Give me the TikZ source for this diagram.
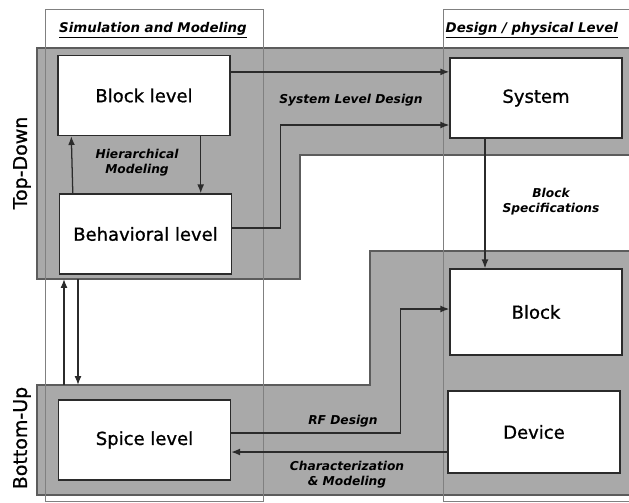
\documentclass[tikz,border=0pt]{standalone}
\usepackage{fontspec}
\setmainfont{DejaVu Sans}[ItalicFont={DejaVu Sans Oblique},
  BoldItalicFont={DejaVu Sans Bold Oblique}]
\newfontfamily\boxfont{DejaVu Sans}[FakeBold=0.9]
\usetikzlibrary{arrows.meta,positioning,calc}
\definecolor{cPanel}{HTML}{A9A9A9}
\definecolor{cPanelEdge}{HTML}{5C5C5C}
\definecolor{cFrame}{HTML}{808080}
\definecolor{cLine}{HTML}{2B2B2B}

\begin{document}
\begin{tikzpicture}[
    x=0.25mm, y=-0.25mm,
    >={Latex[length=2.2mm,width=1.7mm]},
    every node/.style={align=center},
    levelbox/.style={draw=cLine, line width=1pt, fill=white, minimum width=43mm,
      minimum height=20mm, inner sep=2pt, font=\boxfont\fontsize{12.8}{15}\selectfont},
    flowlbl/.style={font=\fontsize{8.7}{10.5}\selectfont\bfseries\itshape, inner sep=1pt},
    sidelbl/.style={rotate=90, font=\boxfont\fontsize{13.5}{16}\selectfont},
    coltitle/.style={font=\fontsize{9.5}{11}\selectfont\bfseries\itshape, inner sep=1pt},
    flow/.style={->, draw=cLine, line width=0.9pt},
]
\useasboundingbox (0,0) rectangle (629,503);

% ---- shaded panels (top-down / bottom-up) ----
\filldraw[fill=cPanel, draw=cPanelEdge, line width=0.8pt]
  (37,48) -- (634,48) -- (634,155) -- (300,155) -- (300,279) -- (37,279) -- cycle;
\filldraw[fill=cPanel, draw=cPanelEdge, line width=0.8pt]
  (37,385) -- (370,385) -- (370,251) -- (634,251) -- (634,495) -- (37,495) -- cycle;
\coordinate (td-sw) at (37,279);
\coordinate (bu-nw) at (37,385);

% ---- column frames ----
\draw[cFrame, line width=0.6pt] (45,9) rectangle (263,501);
\draw[cFrame, line width=0.6pt] (443,9) rectangle (640,501);
\node[coltitle] (simtitle) at (153,30) {\underline{Simulation and Modeling}};
\node[coltitle, anchor=west] (destitle) at (444,30) {\underline{Design / physical Level}};

% ---- side labels ----
\node[sidelbl] (topdown) at (22,163) {Top-Down};
\node[sidelbl] (bottomup) at (22,438) {Bottom-Up};

% ---- simulation side ----
\node[levelbox] (blocklevel) at (144,95.5) {Block level};
\node[levelbox] (behav) at (145.5,234) {Behavioral level};
\node[levelbox] (spice) at (144.5,440) {Spice level};

% ---- physical side ----
\node[levelbox] (system) at (536,98) {System};
\node[levelbox, minimum height=21.5mm] (block) at (536,312) {Block};
\node[levelbox, minimum height=20.5mm] (device) at (534,432) {Device};

% ---- labels ----
\node[flowlbl] (hiermod) at (137,163) {Hierarchical\\Modeling};
\node[flowlbl] (sysdes) at (351,100) {System Level Design};
\node[flowlbl] (blkspec) at (551,202) {Block\\Specifications};
\node[flowlbl] (rfdes) at (343,421) {RF Design};
\node[flowlbl] (charmod) at (347,475) {Characterization\\\& Modeling};

% ---- arrows ----
\draw[flow] ([xshift=-7.5mm]blocklevel.south east) -- ([xshift=-7.5mm]blocklevel.south east |- behav.north);
\draw[flow] ([xshift=3.5mm]behav.north west |- behav.north) -- ([xshift=3.5mm]blocklevel.south west);
\draw[flow] ([xshift=6.75mm]bu-nw) -- ([xshift=6.75mm]td-sw);
\draw[flow] ([xshift=10.25mm]td-sw) -- ([xshift=10.25mm]bu-nw);
\draw[flow] ([yshift=5.9mm]blocklevel.east) -- ([yshift=5.9mm]blocklevel.east -| system.west);
\draw[flow] ([yshift=1.5mm]behav.east) -- ++(48,0) |- ([yshift=-6.75mm]system.west);
\draw[flow] ([xshift=-12.75mm]system.south) -- ([xshift=-12.75mm]system.south |- block.north);
\draw[flow] ([yshift=1.75mm]spice.east) -- ++(169,0) |- ([yshift=0.75mm]block.west);
\draw[flow] ([yshift=-5mm]device.west) -- ([yshift=-5mm]device.west -| spice.east);

\end{tikzpicture}
\end{document}
